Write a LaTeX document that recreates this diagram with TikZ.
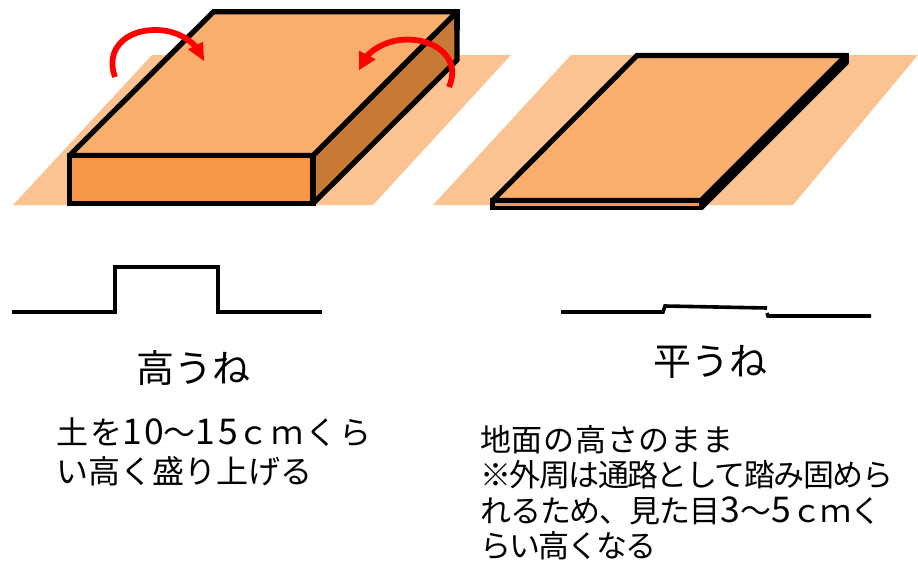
\documentclass[tikz,border=0pt]{standalone}
\usepackage{fontspec}
\setmainfont{Noto Sans CJK JP}
\newcommand{\dg}[1]{{\fontsize{35.5}{35.5}\selectfont #1}}
\newcommand{\ls}[2]{{\addfontfeature{LetterSpace=#1}#2}}
\begin{document}
\begin{tikzpicture}[x=1pt,y=-1pt,
  ground/.style={fill=groundc,draw=none},
  edge/.style={draw=black,line width=5.2pt,line join=miter,miter limit=2},
  prof/.style={draw=black,line width=3.6pt,line join=miter},
  turn/.style={draw=arrowred,line width=5.8pt},
  tip/.style={fill=arrowred,draw=none},
  title/.style={font=\fontsize{38}{42}\selectfont,inner sep=0pt},
  body/.style 2 args={font=\fontsize{#1}{#2}\selectfont,inner sep=0pt,align=left,anchor=north west}]
\definecolor{groundc}{HTML}{FBC392}
\definecolor{topc}{HTML}{F9AE6B}
\definecolor{frontc}{HTML}{F79646}
\definecolor{sidec}{HTML}{C77A36}
\definecolor{arrowred}{HTML}{FF0000}
\useasboundingbox (0,0) rectangle (918,560);
% ground
\path[ground] (13,205) -- (152,55) -- (511,55) -- (373,205) -- cycle;
\path[ground] (433,205) -- (571,55) -- (918,55) -- (793,205) -- cycle;
% high bed
\path[edge,fill=sidec] (313,155.5) -- (457,11.7) -- (457,60) -- (313,203.5) -- cycle;
\path[edge,fill=topc] (69.5,155.5) -- (213.5,11.7) -- (457,11.7) -- (313,155.5) -- cycle;
\path[edge,fill=frontc] (69.5,155.5) -- (313,155.5) -- (313,203.5) -- (69.5,203.5) -- cycle;
\draw[edge] (440,11.7) -- (457,11.7) -- (457,30);
% flat bed
\path[edge,fill=black] (701,200.5) -- (846,55.5) -- (846,63) -- (701,208) -- cycle;
\path[edge,fill=topc] (492.5,200.5) -- (637,55.5) -- (846,55.5) -- (701,200.5) -- cycle;
\path[draw=black,line width=4.6pt,line join=miter,fill=frontc] (492.5,200.5) -- (701,200.5) -- (701,208) -- (492.5,208) -- cycle;
\draw[edge] (830,55.5) -- (846,55.5) -- (846,63);
% arrows
\draw[turn] (115,77) .. controls (105,50) and (125,30) .. (155,30) .. controls (172,30) and (186,36) .. (196,47);
\path[tip] (188,49.3) -- (203,41.7) -- (204,61) -- cycle;
\draw[turn] (449,87) .. controls (461,60) and (438,39.5) .. (407,39.5) .. controls (392,39.5) and (376,46) .. (367,56);
\path[tip] (375.7,59.3) -- (359,50.7) -- (359,70) -- cycle;
% profiles
\draw[prof] (12,312) -- (115,312) -- (115,267) -- (218,267) -- (218,312) -- (322,312);
\draw[prof] (561,312) -- (663,312) -- (665,306) -- (767,308);
\draw[prof] (767,313) -- (768,316) -- (871,316);
% text
\node[title] (high) at (193,368) {高うね};
\node[title] (flat) at (710,362) {平うね};
\node[body={32}{39}] (hightext) at (56,418) {\ls{6.5}{土を\dg{10}〜\dg{15}ｃｍくら}\\い高く盛り上げる};
\node[body={31}{35.5}] (flattext) at (480,425) {\ls{2.4}{地面の高さのまま}\\\ls{-5}{※外周は通路として踏み固めら}\\\ls{-3.5}{れるため、見た目\dg{3}〜\dg{5}ｃｍく}\\\ls{-6}{らい高くなる}};
\end{tikzpicture}
\end{document}
